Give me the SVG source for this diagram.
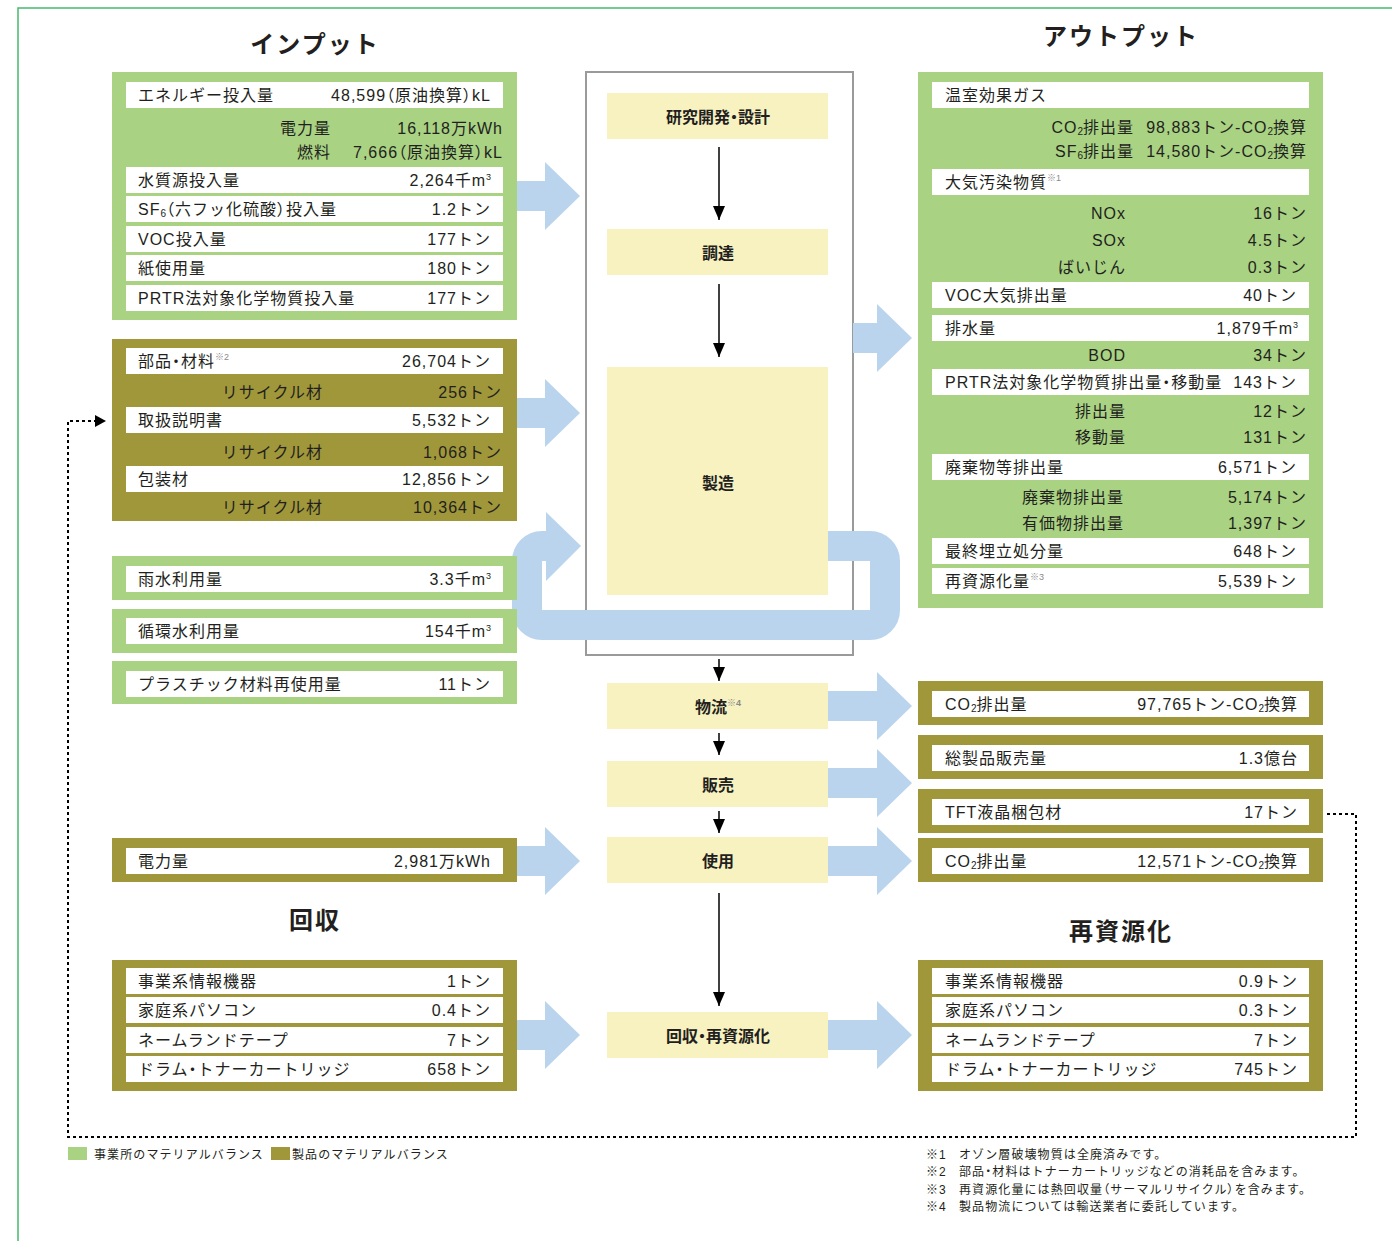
<svg xmlns="http://www.w3.org/2000/svg" width="1392" height="1241" viewBox="0 0 1392 1241">
<style>
.t{font-family:"Liberation Sans","Noto Sans CJK JP",sans-serif;font-size:16px;fill:#231f20;letter-spacing:1px}
.e{text-anchor:end}
.c{text-anchor:middle;font-weight:bold;letter-spacing:0}
.h{font-family:"Noto Sans CJK JP",sans-serif;font-size:24px;font-weight:bold;fill:#231f20;text-anchor:middle;letter-spacing:2px}
.s{font-family:"Liberation Sans","Noto Sans CJK JP",sans-serif;font-size:12px;fill:#231f20;letter-spacing:1.1px}
.p{font-feature-settings:"palt";-webkit-font-feature-settings:"palt"}
.g{fill:#a9d283}
.o{fill:#a0973a}
.w{fill:#ffffff}
.y{fill:#f7f2c0}
.b{fill:#bad4ee}
.note{font-size:9px;fill:#8a8a8a;letter-spacing:0}
.sb{font-size:10px;letter-spacing:0}
.sp{font-size:9px;letter-spacing:0}
.ar{stroke:#000;stroke-width:1.5;fill:none}
</style>
<defs>
<marker id="ah" markerWidth="14" markerHeight="12" refX="14" refY="6" orient="auto" markerUnits="userSpaceOnUse"><path d="M0,0 L14,6 L0,12 Z" fill="#000"/></marker>
</defs>

<rect width="1392" height="1241" fill="#fff"/>
<path d="M18,1241 V8 H1392" fill="none" stroke="#47b96c" stroke-width="1.5"/>

<text class="h" x="315" y="53">インプット</text>
<text class="h" x="1121" y="45">アウトプット</text>
<text class="h" x="315" y="929">回収</text>
<text class="h" x="1121" y="940">再資源化</text>

<!-- center frame -->
<g id="process-frame">
<rect x="586" y="72" width="267" height="583" fill="#fff" stroke="#9a9a9a" stroke-width="2"/>
</g>

<!-- recycling loop (under boxes) -->
<g id="loop">
<path d="M828,546 H870 A15,15 0 0 1 885,561 V610 A15,15 0 0 1 870,625 H542 A15,15 0 0 1 527,610 V561 A15,15 0 0 1 542,546 H548" fill="none" stroke="#bad4ee" stroke-width="30"/>
<polygon class="b" points="546,512 581,546 546,581"/>
</g>

<!-- Input: energy etc -->
<g id="in-site">
<rect class="g" x="112" y="72" width="405" height="248"/>
<rect class="w" x="126" y="82" width="377" height="26"/>
<rect class="w" x="126" y="167" width="377" height="26"/>
<rect class="w" x="126" y="196" width="377" height="26"/>
<rect class="w" x="126" y="226" width="377" height="26"/>
<rect class="w" x="126" y="255" width="377" height="26"/>
<rect class="w" x="126" y="285" width="377" height="26"/>
<text class="t" x="138" y="101">エネルギー投入量</text>
<text class="t e" x="491" y="101">48,599<tspan class="p">（</tspan>原油換算<tspan class="p">）</tspan>kL</text>
<text class="t e" x="331" y="134">電力量</text>
<text class="t e" x="503" y="134">16,118万kWh</text>
<text class="t e" x="331" y="158">燃料</text>
<text class="t e" x="503" y="158">7,666<tspan class="p">（</tspan>原油換算<tspan class="p">）</tspan>kL</text>
<text class="t" x="138" y="186">水質源投入量</text>
<text class="t e" x="491" y="186">2,264千m<tspan class="sp" dy="-6">3</tspan></text>
<text class="t" x="138" y="215">SF<tspan class="sb" dy="2">6</tspan><tspan class="p" dy="-2">（</tspan>六フッ化硫酸<tspan class="p">）</tspan>投入量</text>
<text class="t e" x="491" y="215">1.2トン</text>
<text class="t" x="138" y="245">VOC投入量</text>
<text class="t e" x="491" y="245">177トン</text>
<text class="t" x="138" y="274">紙使用量</text>
<text class="t e" x="491" y="274">180トン</text>
<text class="t" x="138" y="304">PRTR法対象化学物質投入量</text>
<text class="t e" x="491" y="304">177トン</text>
</g>

<g id="in-parts">
<rect class="o" x="112" y="339" width="405" height="182"/>
<rect class="w" x="126" y="348" width="377" height="26"/>
<rect class="w" x="126" y="407" width="377" height="26"/>
<rect class="w" x="126" y="466" width="377" height="26"/>
<text class="t" x="138" y="367">部品<tspan class="p">・</tspan>材料<tspan class="note" dy="-7">※2</tspan></text>
<text class="t e" x="491" y="367">26,704トン</text>
<text class="t e" x="323" y="398">リサイクル材</text>
<text class="t e" x="502" y="398">256トン</text>
<text class="t" x="138" y="426">取扱説明書</text>
<text class="t e" x="491" y="426">5,532トン</text>
<text class="t e" x="323" y="458">リサイクル材</text>
<text class="t e" x="502" y="458">1,068トン</text>
<text class="t" x="138" y="485">包装材</text>
<text class="t e" x="491" y="485">12,856トン</text>
<text class="t e" x="323" y="513">リサイクル材</text>
<text class="t e" x="502" y="513">10,364トン</text>
</g>

<g id="in-rain">
<rect class="g" x="112" y="556" width="405" height="44"/>
<rect class="w" x="126" y="566" width="377" height="26"/>
<text class="t" x="138" y="585">雨水利用量</text>
<text class="t e" x="491" y="585">3.3千m<tspan class="sp" dy="-6">3</tspan></text>
</g>
<g id="in-circ">
<rect class="g" x="112" y="609" width="405" height="44"/>
<rect class="w" x="126" y="618" width="377" height="26"/>
<text class="t" x="138" y="637">循環水利用量</text>
<text class="t e" x="491" y="637">154千m<tspan class="sp" dy="-6">3</tspan></text>
</g>
<g id="in-plastic">
<rect class="g" x="112" y="661" width="405" height="43"/>
<rect class="w" x="126" y="671" width="377" height="26"/>
<text class="t" x="138" y="690">プラスチック材料再使用量</text>
<text class="t e" x="491" y="690">11トン</text>
</g>
<g id="in-power">
<rect class="o" x="112" y="838" width="405" height="44"/>
<rect class="w" x="126" y="848" width="377" height="26"/>
<text class="t" x="138" y="867">電力量</text>
<text class="t e" x="491" y="867">2,981万kWh</text>
</g>
<g id="in-collect">
<rect class="o" x="112" y="960" width="405" height="131"/>
<rect class="w" x="126" y="968" width="377" height="26"/>
<rect class="w" x="126" y="997" width="377" height="26"/>
<rect class="w" x="126" y="1027" width="377" height="26"/>
<rect class="w" x="126" y="1056" width="377" height="26"/>
<text class="t" x="138" y="987">事業系情報機器</text>
<text class="t e" x="491" y="987">1トン</text>
<text class="t" x="138" y="1016">家庭系パソコン</text>
<text class="t e" x="491" y="1016">0.4トン</text>
<text class="t" x="138" y="1046">ネームランドテープ</text>
<text class="t e" x="491" y="1046">7トン</text>
<text class="t" x="138" y="1075">ドラム<tspan class="p">・</tspan>トナーカートリッジ</text>
<text class="t e" x="491" y="1075">658トン</text>
</g>

<!-- process steps -->
<g id="p-rd"><rect class="y" x="607" y="93" width="221" height="46"/><text class="t c" x="718" y="123">研究開発<tspan class="p">・</tspan>設計</text></g>
<g id="p-proc"><rect class="y" x="607" y="229" width="221" height="46"/><text class="t c" x="718" y="259">調達</text></g>
<g id="p-mfg"><rect class="y" x="607" y="367" width="221" height="228"/><text class="t c" x="718" y="489">製造</text></g>
<g id="p-log"><rect class="y" x="607" y="683" width="221" height="46"/><text class="t c" x="718" y="713">物流<tspan class="note" dy="-7">※4</tspan></text></g>
<g id="p-sales"><rect class="y" x="607" y="761" width="221" height="46"/><text class="t c" x="718" y="791">販売</text></g>
<g id="p-use"><rect class="y" x="607" y="837" width="221" height="46"/><text class="t c" x="718" y="867">使用</text></g>
<g id="p-rec"><rect class="y" x="607" y="1012" width="221" height="46"/><text class="t c" x="718" y="1042">回収<tspan class="p">・</tspan>再資源化</text></g>

<!-- Output -->
<g id="out-site">
<rect class="g" x="918" y="72" width="405" height="536"/>
<rect class="w" x="932" y="82" width="377" height="26"/>
<rect class="w" x="932" y="169" width="377" height="26"/>
<rect class="w" x="932" y="282" width="377" height="26"/>
<rect class="w" x="932" y="315" width="377" height="26"/>
<rect class="w" x="932" y="369" width="377" height="26"/>
<rect class="w" x="932" y="454" width="377" height="26"/>
<rect class="w" x="932" y="538" width="377" height="26"/>
<rect class="w" x="932" y="568" width="377" height="26"/>
<text class="t" x="945" y="101">温室効果ガス</text>
<text class="t e" x="1134" y="133">CO<tspan class="sb" dy="2">2</tspan><tspan dy="-2">排出量</tspan></text>
<text class="t e" x="1307" y="133">98,883トン-CO<tspan class="sb" dy="2">2</tspan><tspan dy="-2">換算</tspan></text>
<text class="t e" x="1134" y="157">SF<tspan class="sb" dy="2">6</tspan><tspan dy="-2">排出量</tspan></text>
<text class="t e" x="1307" y="157">14,580トン-CO<tspan class="sb" dy="2">2</tspan><tspan dy="-2">換算</tspan></text>
<text class="t" x="945" y="188">大気汚染物質<tspan class="note" dy="-7">※1</tspan></text>
<text class="t e" x="1126" y="219">NOx</text>
<text class="t e" x="1307" y="219">16トン</text>
<text class="t e" x="1126" y="246">SOx</text>
<text class="t e" x="1307" y="246">4.5トン</text>
<text class="t e" x="1126" y="273">ばいじん</text>
<text class="t e" x="1307" y="273">0.3トン</text>
<text class="t" x="945" y="301">VOC大気排出量</text>
<text class="t e" x="1297" y="301">40トン</text>
<text class="t" x="945" y="334">排水量</text>
<text class="t e" x="1298" y="334">1,879千m<tspan class="sp" dy="-6">3</tspan></text>
<text class="t e" x="1126" y="361">BOD</text>
<text class="t e" x="1307" y="361">34トン</text>
<text class="t" x="945" y="388">PRTR法対象化学物質排出量<tspan class="p">・</tspan>移動量</text>
<text class="t e" x="1297" y="388">143トン</text>
<text class="t e" x="1126" y="417">排出量</text>
<text class="t e" x="1307" y="417">12トン</text>
<text class="t e" x="1126" y="443">移動量</text>
<text class="t e" x="1307" y="443">131トン</text>
<text class="t" x="945" y="473">廃棄物等排出量</text>
<text class="t e" x="1297" y="473">6,571トン</text>
<text class="t e" x="1124" y="503">廃棄物排出量</text>
<text class="t e" x="1307" y="503">5,174トン</text>
<text class="t e" x="1124" y="529">有価物排出量</text>
<text class="t e" x="1307" y="529">1,397トン</text>
<text class="t" x="945" y="557">最終埋立処分量</text>
<text class="t e" x="1297" y="557">648トン</text>
<text class="t" x="945" y="587">再資源化量<tspan class="note" dy="-7">※3</tspan></text>
<text class="t e" x="1297" y="587">5,539トン</text>
</g>

<g id="out-log">
<rect class="o" x="918" y="681" width="405" height="44"/>
<rect class="w" x="932" y="691" width="377" height="26"/>
<text class="t" x="945" y="710">CO<tspan class="sb" dy="2">2</tspan><tspan dy="-2">排出量</tspan></text>
<text class="t e" x="1298" y="710">97,765トン-CO<tspan class="sb" dy="2">2</tspan><tspan dy="-2">換算</tspan></text>
</g>
<g id="out-sales">
<rect class="o" x="918" y="735" width="405" height="44"/>
<rect class="w" x="932" y="745" width="377" height="26"/>
<text class="t" x="945" y="764">総製品販売量</text>
<text class="t e" x="1298" y="764">1.3億台</text>
</g>
<g id="out-tft">
<rect class="o" x="918" y="789" width="405" height="44"/>
<rect class="w" x="932" y="799" width="377" height="26"/>
<text class="t" x="945" y="818">TFT液晶梱包材</text>
<text class="t e" x="1298" y="818">17トン</text>
</g>
<g id="out-use">
<rect class="o" x="918" y="838" width="405" height="44"/>
<rect class="w" x="932" y="848" width="377" height="26"/>
<text class="t" x="945" y="867">CO<tspan class="sb" dy="2">2</tspan><tspan dy="-2">排出量</tspan></text>
<text class="t e" x="1298" y="867">12,571トン-CO<tspan class="sb" dy="2">2</tspan><tspan dy="-2">換算</tspan></text>
</g>
<g id="out-recycle">
<rect class="o" x="918" y="960" width="405" height="131"/>
<rect class="w" x="932" y="968" width="377" height="26"/>
<rect class="w" x="932" y="997" width="377" height="26"/>
<rect class="w" x="932" y="1027" width="377" height="26"/>
<rect class="w" x="932" y="1056" width="377" height="26"/>
<text class="t" x="945" y="987">事業系情報機器</text>
<text class="t e" x="1298" y="987">0.9トン</text>
<text class="t" x="945" y="1016">家庭系パソコン</text>
<text class="t e" x="1298" y="1016">0.3トン</text>
<text class="t" x="945" y="1046">ネームランドテープ</text>
<text class="t e" x="1298" y="1046">7トン</text>
<text class="t" x="945" y="1075">ドラム<tspan class="p">・</tspan>トナーカートリッジ</text>
<text class="t e" x="1298" y="1075">745トン</text>
</g>

<!-- connectors -->
<g id="connectors">
<polygon class="b" points="517,181 545,181 545,162 580,196 545,230 545,211 517,211"/>
<polygon class="b" points="517,398 545,398 545,379 580,413 545,447 545,428 517,428"/>
<polygon class="b" points="517,846 545,846 545,827 580,861 545,895 545,876 517,876"/>
<polygon class="b" points="517,1020 545,1020 545,1001 580,1035 545,1069 545,1050 517,1050"/>
<polygon class="b" points="853,323 877,323 877,304 912,338 877,372 877,353 853,353"/>
<polygon class="b" points="828,691 877,691 877,672 912,706 877,740 877,721 828,721"/>
<polygon class="b" points="828,768 877,768 877,749 912,783 877,817 877,798 828,798"/>
<polygon class="b" points="828,846 877,846 877,827 912,861 877,895 877,876 828,876"/>
<polygon class="b" points="828,1020 877,1020 877,1001 912,1035 877,1069 877,1050 828,1050"/>
<line class="ar" x1="719" y1="147" x2="719" y2="220" marker-end="url(#ah)"/>
<line class="ar" x1="719" y1="284" x2="719" y2="357" marker-end="url(#ah)"/>
<line class="ar" x1="719" y1="659" x2="719" y2="681" marker-end="url(#ah)"/>
<line class="ar" x1="719" y1="733" x2="719" y2="755" marker-end="url(#ah)"/>
<line class="ar" x1="719" y1="811" x2="719" y2="833" marker-end="url(#ah)"/>
<line class="ar" x1="719" y1="893" x2="719" y2="1006" marker-end="url(#ah)"/>
<path d="M1327,814 H1356 V1137 H68 V421 H97" fill="none" stroke="#000" stroke-width="2" stroke-dasharray="3 3"/>
<polygon points="95,415 106,421 95,427" fill="#000"/>
</g>

<!-- legend -->
<g id="legend">
<rect class="g" x="68" y="1147" width="19" height="13"/>
<text class="s" x="94" y="1159">事業所のマテリアルバランス</text>
<rect class="o" x="271" y="1147" width="19" height="13"/>
<text class="s" x="292" y="1159">製品のマテリアルバランス</text>
</g>

<g id="notes">
<text class="s" x="926" y="1159">※1</text><text class="s" x="959" y="1159">オゾン層破壊物質は全廃済みです。</text>
<text class="s" x="926" y="1176">※2</text><text class="s" x="959" y="1176">部品<tspan class="p">・</tspan>材料はトナーカートリッジなどの消耗品を含みます。</text>
<text class="s" x="926" y="1194">※3</text><text class="s" x="959" y="1194">再資源化量には熱回収量<tspan class="p">（</tspan>サーマルリサイクル<tspan class="p">）</tspan>を含みます。</text>
<text class="s" x="926" y="1211">※4</text><text class="s" x="959" y="1211">製品物流については輸送業者に委託しています。</text>
</g>
</svg>
